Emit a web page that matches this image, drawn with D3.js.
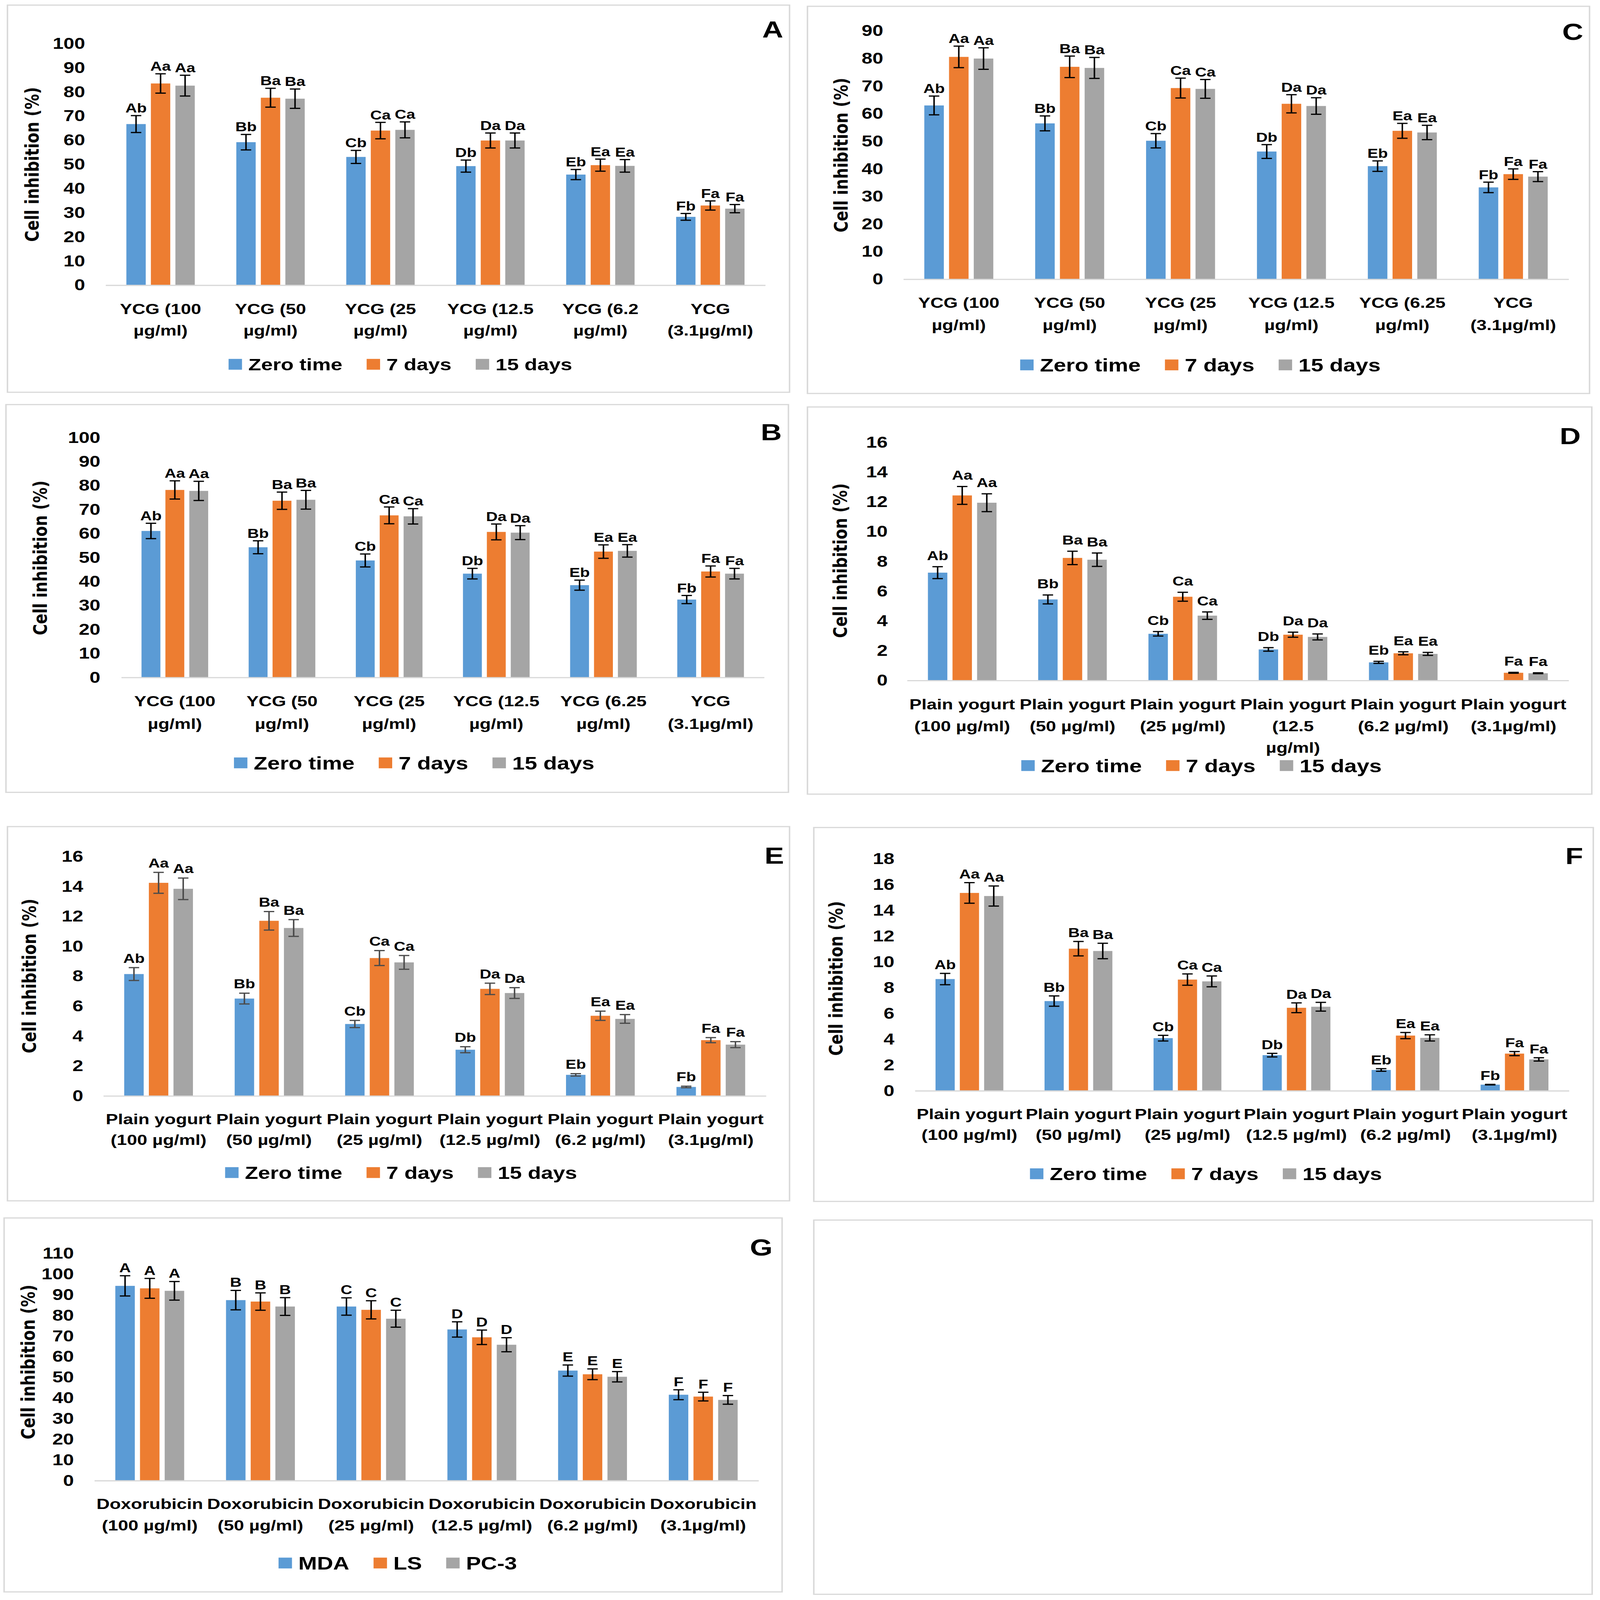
<!DOCTYPE html>
<html>
<head>
<meta charset="utf-8">
<script src="https://cdn.jsdelivr.net/npm/d3@7"></script>
<style>
  html, body { margin: 0; padding: 0; background: #fff; overflow: hidden; }
  svg { display: block; width: 100vw; height: 100vh; }
</style>
</head>
<body>
<svg id="fig" viewBox="0 0 4288 5323" preserveAspectRatio="none"></svg>
<script>
// ---- data ----
const seriesTime = ["Zero time", "7 days", "15 days"];
const seriesCell = ["MDA", "LS", "PC-3"];
const seriesColors = ["#5B9BD5", "#ED7D31", "#A5A5A5"];

const catsYcgA = [["YCG (100", "µg/ml)"], ["YCG (50", "µg/ml)"], ["YCG (25", "µg/ml)"], ["YCG (12.5", "µg/ml)"], ["YCG (6.2", "µg/ml)"], ["YCG", "(3.1µg/ml)"]];
const catsYcgBC = [["YCG (100", "µg/ml)"], ["YCG (50", "µg/ml)"], ["YCG (25", "µg/ml)"], ["YCG (12.5", "µg/ml)"], ["YCG (6.25", "µg/ml)"], ["YCG", "(3.1µg/ml)"]];
const catsYogD = [["Plain yogurt", "(100 µg/ml)"], ["Plain yogurt", "(50 µg/ml)"], ["Plain yogurt", "(25 µg/ml)"], ["Plain yogurt", "(12.5", "µg/ml)"], ["Plain yogurt", "(6.2 µg/ml)"], ["Plain yogurt", "(3.1µg/ml)"]];
const catsYogEF = [["Plain yogurt", "(100 µg/ml)"], ["Plain yogurt", "(50 µg/ml)"], ["Plain yogurt", "(25 µg/ml)"], ["Plain yogurt", "(12.5 µg/ml)"], ["Plain yogurt", "(6.2 µg/ml)"], ["Plain yogurt", "(3.1µg/ml)"]];
const catsDox = [["Doxorubicin", "(100 µg/ml)"], ["Doxorubicin", "(50 µg/ml)"], ["Doxorubicin", "(25 µg/ml)"], ["Doxorubicin", "(12.5 µg/ml)"], ["Doxorubicin", "(6.2 µg/ml)"], ["Doxorubicin", "(3.1µg/ml)"]];

const lettersTime = [["Ab", "Aa", "Aa"], ["Bb", "Ba", "Ba"], ["Cb", "Ca", "Ca"], ["Db", "Da", "Da"], ["Eb", "Ea", "Ea"], ["Fb", "Fa", "Fa"]];
const lettersD = [["Ab", "Aa", "Aa"], ["Bb", "Ba", "Ba"], ["Cb", "Ca", "Ca"], ["Db", "Da", "Da"], ["Eb", "Ea", "Ea"], ["", "Fa", "Fa"]];
const lettersG = [["A", "A", "A"], ["B", "B", "B"], ["C", "C", "C"], ["D", "D", "D"], ["E", "E", "E"], ["F", "F", "F"]];

// values per category: [series1, series2, series3]
const valuesA = [[66.7, 83.5, 82.6], [59.2, 77.6, 77.2], [53.1, 64.0, 64.3], [49.3, 59.9, 59.9], [45.8, 49.7, 49.4], [28.3, 33.0, 31.7]];
const errorsA = [[3.5, 4.0, 4.3], [3.2, 3.9, 4.0], [2.7, 3.4, 3.3], [2.5, 3.1, 3.1], [2.1, 2.5, 2.6], [1.4, 1.9, 1.7]];
const valuesB = [[61.1, 78.2, 77.8], [54.3, 73.7, 74.1], [48.8, 67.6, 67.2], [43.3, 60.7, 60.4], [38.5, 52.5, 52.8], [32.5, 44.2, 43.3]];
const errorsB = [[3.2, 3.8, 4.0], [2.7, 3.6, 3.9], [2.7, 3.5, 3.2], [2.2, 3.3, 2.9], [2.1, 2.8, 2.6], [1.7, 2.3, 2.2]];
const valuesC = [[63.0, 80.6, 80.0], [56.5, 77.0, 76.6], [50.2, 69.3, 69.0], [46.3, 63.6, 62.8], [41.0, 53.8, 53.2], [33.3, 38.1, 37.2]];
const errorsC = [[3.4, 3.9, 3.9], [2.7, 3.9, 3.8], [2.6, 3.6, 3.4], [2.5, 3.3, 3.0], [1.9, 2.7, 2.6], [1.9, 1.9, 1.8]];
const valuesD = [[7.25, 12.44, 11.95], [5.45, 8.24, 8.12], [3.14, 5.63, 4.36], [2.09, 3.08, 2.93], [1.22, 1.83, 1.79], [0, 0.52, 0.49]];
const errorsD = [[0.4, 0.6, 0.6], [0.3, 0.45, 0.45], [0.15, 0.3, 0.25], [0.12, 0.17, 0.2], [0.07, 0.1, 0.1], [0, 0.03, 0.03]];
const valuesE = [[8.15, 14.25, 13.85], [6.51, 11.71, 11.23], [4.81, 9.22, 8.93], [3.09, 7.16, 6.88], [1.41, 5.36, 5.15], [0.60, 3.73, 3.43]];
const errorsE = [[0.43, 0.7, 0.72], [0.36, 0.62, 0.56], [0.24, 0.5, 0.46], [0.2, 0.38, 0.36], [0.08, 0.31, 0.29], [0.05, 0.17, 0.2]];
const valuesF = [[8.68, 15.37, 15.13], [6.97, 11.04, 10.86], [4.09, 8.64, 8.50], [2.77, 6.45, 6.53], [1.62, 4.29, 4.11], [0.48, 2.89, 2.44]];
const errorsF = [[0.44, 0.8, 0.78], [0.4, 0.56, 0.6], [0.22, 0.44, 0.42], [0.14, 0.38, 0.34], [0.1, 0.24, 0.24], [0.02, 0.16, 0.13]];
const valuesG = [[94.3, 93.1, 91.9], [87.4, 86.7, 84.3], [84.3, 82.7, 78.4], [73.2, 69.4, 65.8], [53.3, 51.5, 50.3], [41.6, 40.7, 39.1]];
const errorsG = [[4.9, 4.8, 4.5], [4.7, 4.2, 4.3], [4.2, 4.4, 4.1], [3.7, 3.5, 3.4], [2.7, 2.6, 2.5], [2.4, 2.1, 2.1]];

const panelLetters = ["A", "C", "B", "D", "E", "F", "G"];
const yMaxes = [100, 90, 100, 16, 16, 18, 110];
const yStepsList = [10, 10, 10, 2, 2, 2, 10];

const FONT = "Liberation Sans, Arial, sans-serif";
const TITLE_FONT = "DejaVu Sans, sans-serif";

// ---- layout of each panel (pixels) ----
const panels = [
  { letter: "A", cats: catsYcgA, values: valuesA, errors: errorsA, labels: lettersTime, series: seriesTime,
    box: [20, 17, 2116, 1305], ax: [283, 2051], y0: 949, yTop: 145, tickRight: 228, title: [85, 547],
    tag: [2071, 97], catY: 1027, catDy: 72, legY: 1212, legCx: 1073, legFs: 56, errColor: "#000", gap: 10 },
  { letter: "C", cats: catsYcgBC, values: valuesC, errors: errorsC, labels: lettersTime, series: seriesTime,
    box: [2164, 21, 4260, 1309], ax: [2421, 4204], y0: 929, yTop: 103, tickRight: 2367, title: [2253, 516],
    tag: [4215, 105], catY: 1006, catDy: 74, legY: 1214, legCx: 3217, legFs: 60, errColor: "#000", gap: 10 },
  { letter: "B", cats: catsYcgBC, values: valuesB, errors: errorsB, labels: lettersTime, series: seriesTime,
    box: [16, 1346, 2113, 2636], ax: [325, 2048], y0: 2254, yTop: 1456, tickRight: 269, title: [107, 1856],
    tag: [2067, 1436], catY: 2332, catDy: 75, legY: 2538, legCx: 1110, legFs: 60, errColor: "#000", gap: 10 },
  { letter: "D", cats: catsYogD, values: valuesD, errors: errorsD, labels: lettersD, series: seriesTime,
    box: [2164, 1354, 4266, 2642], ax: [2431, 4204], y0: 2264, yTop: 1472, tickRight: 2379, title: [2251, 1865],
    tag: [4208, 1449], catY: 2343, catDy: 72, legY: 2547, legCx: 3220, legFs: 60, errColor: "#000", gap: 22 },
  { letter: "E", cats: catsYogEF, values: valuesE, errors: errorsE, labels: lettersTime, series: seriesTime,
    box: [20, 2750, 2116, 3995], ax: [277, 2053], y0: 3646, yTop: 2850, tickRight: 223, title: [78, 3247],
    tag: [2075, 2845], catY: 3723, catDy: 68, legY: 3901, legCx: 1075, legFs: 58, errColor: "#4a4a4a", gap: 16 },
  { letter: "F", cats: catsYogEF, values: valuesF, errors: errorsF, labels: lettersTime, series: seriesTime,
    box: [2181, 2753, 4270, 3997], ax: [2452, 4205], y0: 3629, yTop: 2858, tickRight: 2397, title: [2240, 3255],
    tag: [4219, 2847], catY: 3706, catDy: 69, legY: 3905, legCx: 3232, legFs: 58, errColor: "#000", gap: 14 },
  { letter: "G", cats: catsDox, values: valuesG, errors: errorsG, labels: lettersG, series: seriesCell,
    box: [11, 4052, 2096, 5296], ax: [253, 2033], y0: 4926, yTop: 4170, tickRight: 198, title: [75, 4531],
    tag: [2040, 4149], catY: 5003, catDy: 71, legY: 5200, legCx: 1066, legFs: 60, errColor: "#000", gap: 12 }
];
const emptyBox = [2181, 4059, 4267, 5304];

const svg = d3.select("#fig");
svg.append("rect").attr("width", 4288).attr("height", 5323).attr("fill", "#fff");

function frame(b) {
  svg.append("rect")
    .attr("x", b[0]).attr("y", b[1])
    .attr("width", b[2] - b[0]).attr("height", b[3] - b[1])
    .attr("fill", "#fff")
    .attr("stroke", "#d9d9d9")
    .attr("stroke-width", 4);
}

panels.forEach(p => {
  const idx = panelLetters.indexOf(p.letter);
  const yMax = yMaxes[idx];
  const yStep = yStepsList[idx];
  frame(p.box);

  const g = svg.append("g");
  const catKeys = p.cats.map(c => c.join(" "));

  const x = d3.scaleBand().domain(catKeys).range(p.ax).paddingInner(0).paddingOuter(0);
  const step = x.bandwidth() * 0.223;
  const xs = d3.scaleBand().domain(p.series)
    .range([-1.5 * step, 1.5 * step])
    .paddingInner(0.21).paddingOuter(0.105);
  const y = d3.scaleLinear().domain([0, yMax]).range([p.y0, p.yTop]);
  const barX = (ci, si) => x(catKeys[ci]) + x.bandwidth() / 2 + xs(p.series[si]) + xs.bandwidth() / 2;

  // y axis labels
  const yAxis = g.append("g")
    .attr("transform", `translate(${p.ax[0]},0)`)
    .call(d3.axisLeft(y).tickValues(d3.range(0, yMax + yStep / 2, yStep)).tickSize(0).tickPadding(p.ax[0] - p.tickRight));
  yAxis.select(".domain").remove();
  yAxis.selectAll("text")
    .style("font-family", FONT)
    .style("font-size", "52px")
    .style("font-weight", "bold")
    .attr("fill", "#000");

  // bars
  p.values.forEach((row, ci) => {
    row.forEach((v, si) => {
      if (!v) return;
      g.append("rect")
        .attr("x", barX(ci, si) - xs.bandwidth() / 2)
        .attr("y", y(v))
        .attr("width", xs.bandwidth())
        .attr("height", y(0) - y(v))
        .attr("fill", seriesColors[si]);
    });
  });

  // x axis line
  const xAxis = g.append("g")
    .attr("transform", `translate(0,${p.y0})`)
    .call(d3.axisBottom(x).tickSize(0).tickSizeOuter(0).tickFormat(""));
  xAxis.select(".domain").attr("stroke", "#d9d9d9").attr("stroke-width", 4);

  // error bars + letters
  p.values.forEach((row, ci) => {
    row.forEach((v, si) => {
      const e = p.errors[ci][si];
      const cx = barX(ci, si);
      if (v) {
        const capW = 14;
        const eg = g.append("g").attr("stroke", p.errColor).attr("stroke-width", 4);
        eg.append("line").attr("x1", cx).attr("x2", cx).attr("y1", y(v - e)).attr("y2", y(v + e));
        eg.append("line").attr("x1", cx - capW).attr("x2", cx + capW).attr("y1", y(v - e)).attr("y2", y(v - e));
        eg.append("line").attr("x1", cx - capW).attr("x2", cx + capW).attr("y1", y(v + e)).attr("y2", y(v + e));
      }
      const lab = p.labels[ci][si];
      if (lab) {
        g.append("text")
          .attr("x", cx)
          .attr("y", y(v + e) - p.gap)
          .attr("text-anchor", "middle")
          .style("font-family", FONT)
          .style("font-size", "43px")
          .style("font-weight", "bold")
          .attr("fill", "#000")
          .text(lab);
      }
    });
  });

  // category labels
  p.cats.forEach((lines, ci) => {
    const t = g.append("text")
      .attr("text-anchor", "middle")
      .style("font-family", FONT)
      .style("font-size", "49px")
      .style("font-weight", "bold")
      .attr("fill", "#000");
    lines.forEach((ln, li) => {
      t.append("tspan")
        .attr("x", x(catKeys[ci]) + x.bandwidth() / 2)
        .attr("y", p.catY + li * p.catDy)
        .attr("dy", "0.36em")
        .text(ln);
    });
  });

  // y title
  g.append("text")
    .attr("transform", `translate(${p.title[0]},${p.title[1]}) rotate(-90)`)
    .attr("text-anchor", "middle")
    .attr("dy", "0.36em")
    .style("font-family", TITLE_FONT)
    .style("font-size", "51px")
    .style("font-weight", "bold")
    .attr("fill", "#000")
    .text("Cell inhibition (%)");

  // panel letter
  g.append("text")
    .attr("x", p.tag[0]).attr("y", p.tag[1])
    .attr("text-anchor", "middle")
    .attr("dy", "0.36em")
    .style("font-family", FONT)
    .style("font-size", "78px")
    .style("font-weight", "bold")
    .attr("fill", "#000")
    .text(p.letter);

  // legend
  const sq = 36, gapText = 17, gapItem = 65;
  const leg = g.append("g");
  const items = p.series.map((s, si) => {
    const it = leg.append("g");
    it.append("rect").attr("width", sq).attr("height", sq).attr("y", -sq / 2).attr("fill", seriesColors[si]);
    const tx = it.append("text")
      .attr("x", sq + gapText)
      .attr("dy", "0.36em")
      .style("font-family", FONT)
      .style("font-size", p.legFs + "px")
      .style("font-weight", "bold")
      .attr("fill", "#000")
      .text(s);
    return { it, w: sq + gapText + tx.node().getComputedTextLength() };
  });
  const total = d3.sum(items, d => d.w) + gapItem * (items.length - 1);
  let cur = p.legCx - total / 2;
  items.forEach(d => {
    d.it.attr("transform", `translate(${cur},${p.legY})`);
    cur += d.w + gapItem;
  });
});

frame(emptyBox);
</script>
</body>
</html>
